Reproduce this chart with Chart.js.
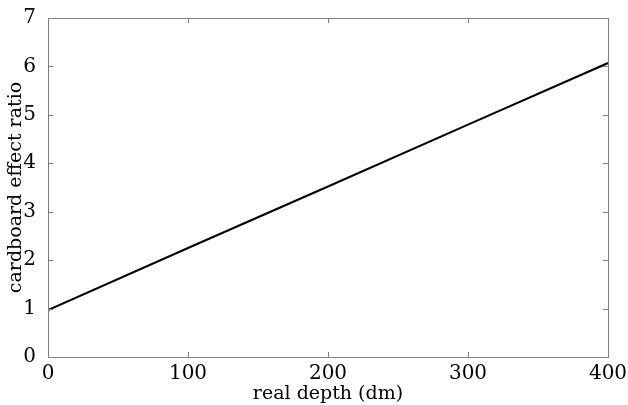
<!DOCTYPE html>
<html>
<head>
<meta charset="utf-8">
<script src="https://cdn.jsdelivr.net/npm/chart.js@4"></script>
<style>
  html, body { margin: 0; padding: 0; background: #fff; }
  #wrap { width: 628px; height: 405px; }
</style>
</head>
<body>
<div id="wrap"><canvas id="chart" width="628" height="405"></canvas></div>
<script>
// real depth (dm) vs cardboard effect ratio
const depth = [0, 100, 200, 300, 400];
const ratio = [0.97, 2.25, 3.52, 4.80, 6.07];
const xTicks = [0, 100, 200, 300, 400];
const yTicks = [0, 1, 2, 3, 4, 5, 6, 7];

const FONT = 'DejaVu Serif';
const AXIS = '#808080';

// box + inward ticks, matlab style
const boxTicks = {
  id: 'boxTicks',
  afterDraw(chart) {
    const ctx = chart.ctx;
    const a = chart.chartArea;
    const x = chart.scales.x;
    const y = chart.scales.y;
    const len = 5;
    ctx.save();
    ctx.strokeStyle = AXIS;
    ctx.lineWidth = 1;
    ctx.beginPath();
    xTicks.forEach(v => {
      const px = Math.round(x.getPixelForValue(v)) + 0.5;
      ctx.moveTo(px, a.bottom); ctx.lineTo(px, a.bottom - len);
      ctx.moveTo(px, a.top); ctx.lineTo(px, a.top + len);
    });
    yTicks.forEach(v => {
      const py = Math.round(y.getPixelForValue(v)) + 0.5;
      ctx.moveTo(a.left, py); ctx.lineTo(a.left + len, py);
      ctx.moveTo(a.right, py); ctx.lineTo(a.right - len, py);
    });
    ctx.stroke();
    ctx.strokeRect(Math.round(a.left) + 0.5, Math.round(a.top) + 0.5,
      Math.round(a.right - a.left), Math.round(a.bottom - a.top));
    ctx.restore();
  }
};

new Chart(document.getElementById('chart'), {
  type: 'line',
  data: {
    datasets: [{
      data: depth.map((d, i) => ({ x: d, y: ratio[i] })),
      borderColor: '#000',
      borderWidth: 2,
      pointRadius: 0,
      tension: 0,
      fill: false,
    }],
  },
  options: {
    responsive: false,
    animation: false,
    layout: { padding: { top: 18, right: 20, left: 0, bottom: 0 } },
    plugins: { legend: { display: false }, tooltip: { enabled: false } },
    scales: {
      x: {
        type: 'linear',
        min: 0, max: 400,
        afterBuildTicks(s) { s.ticks = xTicks.map(v => ({ value: v })); },
        afterFit(s) { s.height = 48; },
        grid: { display: false },
        border: { display: false },
        ticks: { color: '#000', padding: -3, font: { family: FONT, size: 20 } },
        title: {
          display: true, text: 'real depth (dm)', color: '#000',
          padding: 0, font: { family: FONT, size: 19 },
        },
      },
      y: {
        type: 'linear',
        min: 0, max: 7,
        afterBuildTicks(s) { s.ticks = yTicks.map(v => ({ value: v })); },
        afterFit(s) { s.width = 48; },
        grid: { display: false },
        border: { display: false },
        ticks: { color: '#000', padding: 4, font: { family: FONT, size: 20 } },
        title: {
          display: true, text: 'cardboard effect ratio', color: '#000',
          padding: { top: 5, bottom: 0 }, font: { family: FONT, size: 19 },
        },
      },
    },
  },
  plugins: [boxTicks],
});
</script>
</body>
</html>
